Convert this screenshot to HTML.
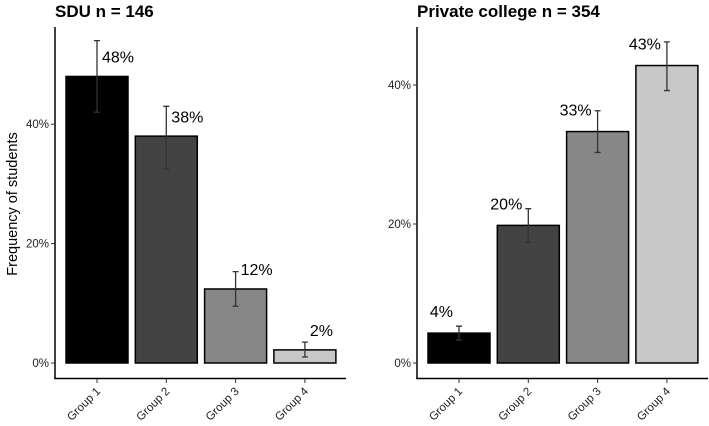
<!DOCTYPE html>
<html><head><meta charset="utf-8"><style>
html,body{margin:0;padding:0;background:#fff;}
svg{display:block;font-family:"Liberation Sans",Arial,sans-serif;}
</style></head><body>
<svg id="c" width="709" height="426" viewBox="0 0 709 426"></svg>
<script>
const categories = ["Group 1","Group 2","Group 3","Group 4"];
const sduValues = [48, 38, 12.4, 2.2];
const sduLow = [42, 32.5, 9.5, 1];
const sduHigh = [54, 43, 15.3, 3.5];
const sduLabels = ["48%","38%","12%","2%"];
const pcValues = [4.3, 19.8, 33.3, 42.8];
const pcLow = [3.3, 17.4, 30.3, 39.2];
const pcHigh = [5.3, 22.2, 36.3, 46.2];
const pcLabels = ["4%","20%","33%","43%"];
const yTicks = [0, 20, 40];
const fills = ["#000000","#434343","#878787","#c8c8c8"];

const svg = document.getElementById('c');
const NS = "http://www.w3.org/2000/svg";
function mk(tag, attrs, parent){
  const e = document.createElementNS(NS, tag);
  for (const k in attrs) e.setAttribute(k, attrs[k]);
  (parent||svg).appendChild(e);
  return e;
}
function panel(o){
  const g = mk('g', {});
  
  
  const y = v => o.y0 - v * o.k;
  const x = i => o.x0 + i * o.step;
  const t = mk('text', {x:o.titleX, y:17, 'font-size':17, 'font-weight':'bold', fill:'#000'}, g);
  t.textContent = o.title;
  
  
  const ya = mk('line', {x1:o.ax, y1:27, x2:o.ax, y2:379, stroke:'#000', 'stroke-width':1.5}, g);
  
  
  const xa = mk('line', {x1:o.ax-0.75, y1:378.5, x2:o.ax+291, y2:378.5, stroke:'#000', 'stroke-width':1.5}, g);
  
  
  yTicks.forEach(v => {
    mk('line', {x1:o.ax-4, y1:y(v), x2:o.ax, y2:y(v), stroke:'#333', 'stroke-width':1}, g);
    const tl = mk('text', {x:o.ax-6, y:y(v)+4, 'font-size':11.5, 'text-anchor':'end', fill:'#222'}, g);
    tl.textContent = v + '%';
    
    
  });
  categories.forEach((c, i) => {
    const cx = x(i);
    const b = mk('rect', {x:cx-31, y:y(o.vals[i]), width:62, height:o.vals[i]*o.k, fill:fills[i], stroke:'#000', 'stroke-width':1.5}, g);
    
    
    const eb = mk('path', {d:`M${cx-3},${y(o.hi[i])}H${cx+3}M${cx},${y(o.hi[i])}V${y(o.lo[i])}M${cx-3},${y(o.lo[i])}H${cx+3}`, stroke:'#333', 'stroke-width':1.3, fill:'none'}, g);
    
    
    const lbl = mk('text', {x:cx + o.lblDx, y:y(o.vals[i] + 2.3), 'font-size':16, 'text-anchor':o.lblAnchor, fill:'#000'}, g);
    lbl.textContent = o.labels[i];
    
    
    mk('line', {x1:cx, y1:379, x2:cx, y2:383, stroke:'#333', 'stroke-width':1}, g);
    const xl = mk('text', {x:0, y:0, 'font-size':11.5, 'text-anchor':'end', fill:'#222', transform:`translate(${cx+4},${392}) rotate(-45)`}, g);
    xl.textContent = c;
    
    
  });
}
panel({name:'sdu-panel', title:'SDU n = 146', titleX:55, ax:55, x0:97, step:69.3, y0:363, k:5.97,
  vals:sduValues, lo:sduLow, hi:sduHigh, labels:sduLabels, lblDx:5, lblAnchor:'start'});
panel({name:'private-college-panel', title:'Private college n = 354', titleX:417, ax:417, x0:459, step:69.3, y0:363, k:6.95,
  vals:pcValues, lo:pcLow, hi:pcHigh, labels:pcLabels, lblDx:-6, lblAnchor:'end'});
const yt = mk('text', {x:0, y:0, 'font-size':14.5, 'text-anchor':'middle', fill:'#000', transform:'translate(17,204) rotate(-90)'});
yt.textContent = 'Frequency of students';


</script>
</body></html>
